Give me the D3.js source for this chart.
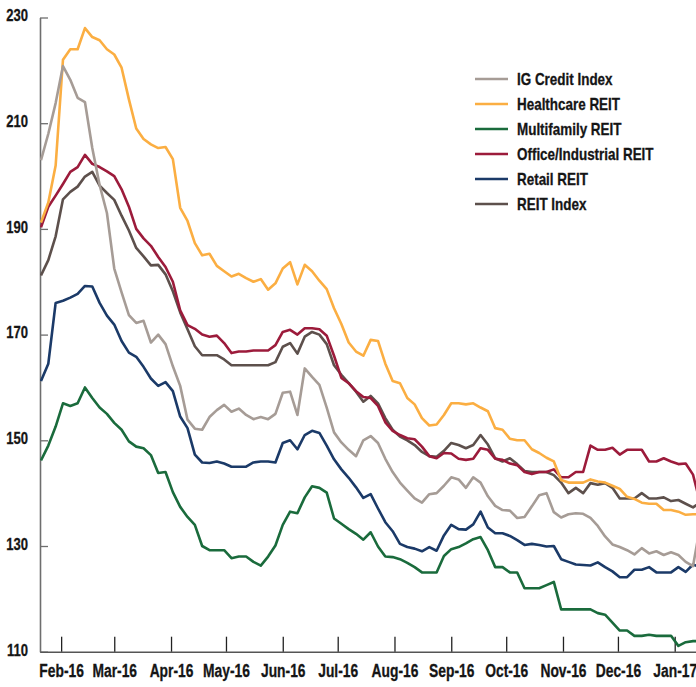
<!DOCTYPE html>
<html>
<head>
<meta charset="utf-8">
<script src="https://cdn.jsdelivr.net/npm/d3@7"></script>
<style>
  body { margin: 0; background: #fff; }
  svg text { font-family: "Liberation Sans", Arial, sans-serif; font-weight: bold; fill: #151515; stroke: #151515; stroke-width: 0.3px; }
</style>
</head>
<body>
<div id="chart"></div>
<script>
// dates of the sampled points (every 4 days)
const dates = [
  "2016-01-21","2016-01-25","2016-01-29","2016-02-02","2016-02-06","2016-02-10","2016-02-14","2016-02-18","2016-02-22","2016-02-26",
  "2016-03-01","2016-03-05","2016-03-09","2016-03-13","2016-03-17","2016-03-21","2016-03-25","2016-03-29","2016-04-02","2016-04-06",
  "2016-04-10","2016-04-14","2016-04-18","2016-04-22","2016-04-26","2016-04-30","2016-05-04","2016-05-08","2016-05-12","2016-05-16",
  "2016-05-20","2016-05-24","2016-05-28","2016-06-01","2016-06-05","2016-06-09","2016-06-13","2016-06-17","2016-06-21","2016-06-25",
  "2016-06-29","2016-07-03","2016-07-07","2016-07-11","2016-07-15","2016-07-19","2016-07-23","2016-07-27","2016-07-31","2016-08-04",
  "2016-08-08","2016-08-12","2016-08-16","2016-08-20","2016-08-24","2016-08-28","2016-09-01","2016-09-05","2016-09-09","2016-09-13",
  "2016-09-17","2016-09-21","2016-09-25","2016-09-29","2016-10-03","2016-10-07","2016-10-11","2016-10-15","2016-10-19","2016-10-23",
  "2016-10-27","2016-10-31","2016-11-04","2016-11-08","2016-11-12","2016-11-16","2016-11-20","2016-11-24","2016-11-28","2016-12-02",
  "2016-12-06","2016-12-10","2016-12-14","2016-12-18","2016-12-22","2016-12-26","2016-12-30","2017-01-03","2017-01-07","2017-01-11",
  "2017-01-15"
];

const igCredit = [
  203,208,213.8,220.8,218.2,214.8,214,205.3,198.3,193,
  182.5,178,173.7,172.2,172.6,168.5,170,168.2,164,160.3,
  153.9,152.2,152,154.4,155.7,156.7,155.4,156,154.8,154,
  154.4,154,155,159,159.2,154.8,163.6,162,160.5,156.2,
  151.5,149.6,148.2,147,150,150.8,149.5,146.5,144,142,
  140.5,139,138.2,139.8,140,141.4,143,142.6,141,143,
  142,139.4,137.6,136.8,136.7,135.3,135.5,137.5,139.6,140,
  136.4,135.4,136,136.2,136.1,135.3,133.8,131.8,130.3,129.8,
  129.2,128.4,129.6,128.6,129,128.3,128.8,128.3,127,126.2,
  134
];

const healthcare = [
  191.2,195,202,222,224,224,228,226.3,225.7,224,
  223,220.5,214.5,209,207,206,205.3,205.5,203.2,194,
  191.5,187.3,185,185.3,183,182,181,181.5,180.7,180,
  180.5,178.5,179.7,182.5,183.7,179.5,183.2,182,180.2,178.6,
  175,172,168.5,166.8,166,169,168.8,164.5,161.2,160.8,
  158,156.8,154.2,152.8,153,154.8,157,157,156.8,157,
  156.2,155.5,152.3,152,150.3,150,150,148.3,147.6,146.7,
  146,142.5,142,142,142,142.6,142.2,142,141.4,140.8,
  139.3,138.9,138.2,138,138,136.8,136.8,136.5,135.9,136,
  136
];

const multifamily = [
  146.2,149,152.6,157,156.5,157,160,158,156.2,155,
  153.3,152,149.8,148.8,148.5,147.2,143.8,144,140.2,137.4,
  135.5,134,130,129.2,129.2,129.2,127.7,128,128,127,
  126.3,128,130.1,134,136.5,136.2,139.2,141.3,141,140.1,
  135.2,134.2,133.2,132.3,131.2,132.6,129.9,128,127.9,127.5,
  126.8,126,125,125,125,128.1,129.4,129.8,130.5,131.3,
  131.7,129.2,126,126,125,125,122,122,122,122.6,
  123.2,118,118,118,118,118,117.3,117,115.5,114,
  114,113,113,113.2,113,113,113,111.1,111.8,112,
  112
];

const officeIndustrial = [
  190.3,194.2,196.3,198.5,200.8,201.7,204,202.3,201.7,200.9,
  200,197.5,194.2,190,188.2,186.8,184.7,182.8,180,174.6,
  171.8,171.1,170,169.6,169.8,168.4,166.5,166.8,166.8,167,
  167,167,168,170.5,170.9,170,171.2,171.2,171,169.8,
  166,161.8,160.8,159.3,158.2,158,156.5,153.4,151.8,151,
  150.4,150.2,148.8,147,146.6,147.6,147.5,146.5,146.3,146.5,
  148.5,148.2,146.5,146.3,145.6,145.3,144,143.6,144,144,
  144.5,143,143,144,144,149,148.2,148.2,148.6,147.3,
  148.2,148.2,148.2,146,146,146.6,146,145.5,145.6,143.5,
  138
];

const retail = [
  161.2,164.5,176,176.4,177,177.7,179.2,179.1,176,173.6,
  171.9,168.8,166.6,165.8,163.9,161.7,160.3,161,159.3,154.5,
  152.3,147.3,145.8,145.7,146,145.6,145,145,145,145.8,
  146,146,145.8,149.5,150,148.3,151,151.8,151.4,149,
  146.4,144.5,142.9,141.1,139.1,139.8,137.1,134.5,132.8,130.4,
  129.8,129.5,129,129.8,129.1,132,134,133.2,133.1,134.1,
  136.5,133.5,132.4,132.4,131.9,131.1,130.2,130.4,130.2,129.9,
  130,127.5,127,126.5,126.4,126.3,126.9,126,125.2,124.1,
  124.1,125.5,125.5,126,125,125,125,126,125.1,126.5,
  126
];

const reitIndex = [
  181.2,184.1,188.6,195.6,197,198,199.9,200.8,198.2,196.8,
  195.5,192.5,189.7,186.4,184.8,183.1,183.2,181.4,178.2,174.2,
  171,167.8,166.1,166.1,166.1,165.3,164.2,164.2,164.2,164.2,
  164.2,164.2,164.8,167.7,168.4,166.4,169.6,170.5,170,168.2,
  164.2,162.4,160.8,159.2,157.3,158.4,157,154.2,152,150.7,
  150,149.1,147.8,147,146.9,148,149.5,149.1,148.5,149.1,
  151,149.2,146.6,146,146.6,145.5,144.2,144,144,144,
  143.4,142,140,141,140,141.9,141.6,141.9,141,139,
  139,139,140,139,139,139.2,138.5,138.7,138,137.3,
  138.3
];

const seriesNames = ["IG Credit Index", "Healthcare REIT", "Multifamily REIT", "Office/Industrial REIT", "Retail REIT", "REIT Index"];
const seriesValues = [igCredit, healthcare, multifamily, officeIndustrial, retail, reitIndex];
const seriesColors = ["#a69c96", "#fbae42", "#1a6b3c", "#9c1b3b", "#1b3a68", "#5d504c"];

const yTicks = [110, 130, 150, 170, 190, 210, 230];
const monthTicks = ["2016-02-01","2016-03-01","2016-04-01","2016-05-01","2016-06-01","2016-07-01",
                    "2016-08-01","2016-09-01","2016-10-01","2016-11-01","2016-12-01","2017-01-01"];

const width = 696, height = 687;
const parse = d3.timeParse("%Y-%m-%d");
const xDates = dates.map(parse);

// the source uses a condensed face; squeeze the regular one to match
const condense = 0.79;
function squeeze(sel) {
  sel.each(function () {
    const w = this.getComputedTextLength();
    d3.select(this).attr("textLength", w * condense).attr("lengthAdjust", "spacingAndGlyphs");
  });
}

const svg = d3.select("#chart").append("svg")
  .attr("width", width)
  .attr("height", height);

// x: time axis, plot spans x=40..696
const x = d3.scaleTime()
  .domain([new Date(2016, 0, 20, 11), new Date(2017, 0, 12, 15)])
  .range([40, 696]);
const y = d3.scaleLinear().domain([110, 230]).range([651.7, 17.5]);

// clip so lines stay inside the plot
svg.append("clipPath").attr("id", "plot-clip")
  .append("rect").attr("x", 40).attr("y", 0).attr("width", width - 40).attr("height", 652);

// axes
const yAxis = d3.axisLeft(y).tickValues(yTicks).tickSize(-8).tickSizeOuter(0).tickPadding(12);
const gy = svg.append("g").attr("transform", "translate(40,0)").call(yAxis);
gy.select(".domain").attr("stroke", "#6e6e6e").attr("stroke-width", 1.6);
gy.selectAll(".tick line").attr("stroke", "#6e6e6e").attr("stroke-width", 1.3);
gy.selectAll(".tick text").attr("dy", "0.2em").style("font-size", "16.5px").call(squeeze);

const xAxis = d3.axisBottom(x).tickValues(monthTicks.map(parse))
  .tickFormat(d3.timeFormat("%b-%y")).tickSize(-15).tickSizeOuter(0).tickPadding(13);
const gx = svg.append("g").attr("transform", "translate(0,651.7)").call(xAxis);
gx.select(".domain").attr("stroke", "#555").attr("stroke-width", 1.6);
gx.selectAll(".tick line").attr("stroke", "#222").attr("stroke-width", 1.3);
gx.selectAll(".tick text").style("font-size", "17.5px").call(squeeze);

// lines, drawn in reverse legend order so IG Credit ends on top
const line = d3.line()
  .x((d, i) => x(xDates[i]))
  .y(d => y(d));

const plot = svg.append("g").attr("clip-path", "url(#plot-clip)");
for (let s = seriesValues.length - 1; s >= 0; s--) {
  plot.append("path")
    .datum(seriesValues[s])
    .attr("fill", "none")
    .attr("stroke", seriesColors[s])
    .attr("stroke-width", 2.6)
    .attr("stroke-linejoin", "round")
    .attr("d", line);
}

// legend
const legend = svg.append("g").attr("transform", "translate(475,79)");
seriesNames.forEach((name, i) => {
  const row = legend.append("g").attr("transform", `translate(0,${i * 25})`);
  row.append("line")
    .attr("x1", 0).attr("x2", 33)
    .attr("stroke", seriesColors[i]).attr("stroke-width", 2.6);
  row.append("text")
    .attr("x", 42).attr("dy", "0.35em")
    .style("font-size", "17px")
    .text(name)
    .call(squeeze);
});
</script>
</body>
</html>
